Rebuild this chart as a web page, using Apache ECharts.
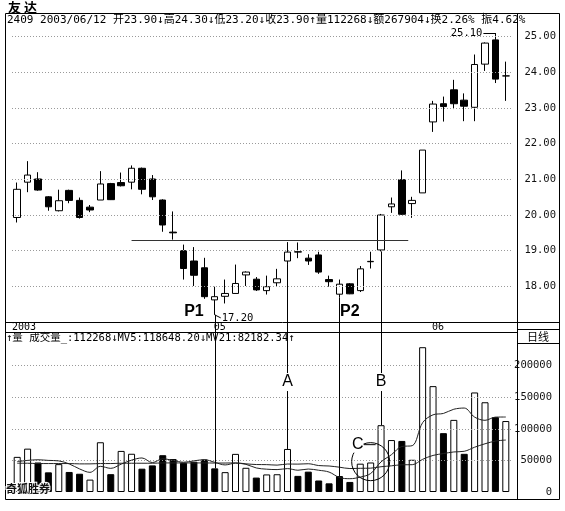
<!DOCTYPE html>
<html>
<head>
<meta charset="utf-8">
<script src="https://cdn.jsdelivr.net/npm/echarts@6.0.0/dist/echarts.min.js"></script>
<style>
html,body{margin:0;padding:0;background:#fff;}
#chart{width:565px;height:511px;}
</style>
</head>
<body>
<div id="chart"></div>
<script>
// ---------------- data ----------------
const dates = [
'2003/04/04','2003/04/07','2003/04/08','2003/04/09','2003/04/10','2003/04/11','2003/04/14','2003/04/15','2003/04/16','2003/04/17',
'2003/04/18','2003/04/21','2003/04/22','2003/04/23','2003/04/24','2003/04/25','2003/04/28','2003/04/29','2003/04/30',
'2003/05/02','2003/05/05','2003/05/06','2003/05/07','2003/05/08','2003/05/09','2003/05/12','2003/05/13','2003/05/14','2003/05/15','2003/05/16',
'2003/05/19','2003/05/20','2003/05/21','2003/05/22','2003/05/23','2003/05/26','2003/05/27','2003/05/28','2003/05/29','2003/05/30',
'2003/06/02','2003/06/03','2003/06/05','2003/06/06','2003/06/09','2003/06/10','2003/06/11','2003/06/12'];
const openP  = [19.93,20.92,21.01,20.51,20.12,20.69,20.41,20.22,20.42,20.88, 20.91,20.92,21.31,21.01,20.42,19.52,19.00,18.71,18.52,17.62, 17.72,17.80,18.32,18.20,17.88,18.10,18.71,18.97,18.79,18.88, 18.19,17.78,18.07,17.88,18.69,19.02,20.23,20.99,20.32,20.62, 22.61,23.12,23.51,23.22,23.02,24.23,24.91,23.90];
const closeP = [20.72,21.12,20.70,20.23,20.40,20.41,19.93,20.14,20.87,20.43, 20.82,21.31,20.72,20.51,19.72,19.50,18.50,18.31,17.71,17.71, 17.80,18.08,18.40,17.90,17.99,18.21,18.96,18.96,18.71,18.40, 18.13,18.06,17.79,18.49,18.70,20.00,20.31,20.02,20.41,21.82, 23.11,23.04,23.12,23.05,24.22,24.82,23.81,23.90];
const lowP   = [19.79,20.64,20.68,20.12,20.10,20.33,19.90,20.08,20.42,20.42, 20.80,20.72,20.58,20.42,19.53,19.31,18.19,18.01,17.65,17.20, 17.52,17.80,18.01,17.87,17.77,17.99,18.60,18.79,18.60,18.35, 17.99,17.69,17.78,17.84,18.50,18.98,20.06,20.00,19.92,20.62, 22.33,22.62,22.97,22.63,22.63,24.04,23.70,23.20];
const highP  = [20.91,21.51,21.20,20.53,20.71,20.71,20.49,20.28,21.23,20.90, 21.19,21.39,21.33,21.12,20.44,20.10,19.17,19.10,18.80,17.99, 18.19,18.61,18.42,18.26,18.30,18.49,19.24,19.23,18.90,18.97, 18.30,18.19,18.09,18.57,18.97,20.03,20.49,21.25,20.51,21.82, 23.20,23.32,23.79,23.41,24.50,24.84,25.10,24.30];
const volume = [55600,68600,46700,31100,44100,31700,28900,19600,78700,28200, 65000,60500,36900,42100,58200,52100,46100,47900,51400,37400, 31400,60300,38300,22800,27800,28100,68100,25500,32200,18200, 13700,25200,15900,44800,46700,105700,82200,80800,51000,229100, 167500,93100,114100,60400,157500,142000,118400,112268];
const volUp  = [1,1,0,0,1,0,0,1,1,0, 1,1,0,0,0,0,0,0,0,0, 1,1,1,0,1,1,1,0,0,0, 0,0,0,1,1,1,1,0,1,1, 1,0,1,0,1,1,0,1];
const mv5  = [48000,50000,51000,50000,49220,44440,36500,31080,40600,37420, 44080,50400,53860,46540,52540,49960,47080,49280,51140,46980, 42840,45680,43760,38040,36120,35460,37020,34460,36340,34420, 31540,22960,21040,23560,29260,47660,59060,72040,73280,109760, 122120,124300,130960,132840,118520,113420,118480,118648.20];
const mv21 = [45500,45500,45000,45000,45000,45000,44500,44500,45000,45000, 45500,45500,45500,45500,46000,46000,46000,46000,46000,45800, 45819,46043,44600,43462,43305,42543,44276,44114,44714,41833, 41143,39248,37124,37500,37719,39981,41414,43067,43214,51676, 57871,60810,63371,64424,70838,76276,80576,82182.34];
const priceTicks = [18,19,20,21,22,23,24,25];
const volTicks = [50000,100000,150000,200000];
const periodLabels = ['2003','05','06'];
const periodIdx = [0,19,40];
// annotation anchors (category index) and values
const markIdx = [19,26,31,35];          // P1 line, A, P2 line, B
const markLetters = ['','A','','B'];
const letterVol = 174000;
const peakNames = ['P1','P2'];
const peakIdx = [17,32];
const peakPrice = 17.30;
const necklinePrice = 19.30;
const necklineFrom = 11, necklineTo = 38;
const circleIdx = 34, circleVol = 48000, circleName = 'C';
const stockName = '友 达', stockCode = '2409';
const headerExtra = ['267904','2.26%','4.62%']; // 额, 换, 振

// ---------------- chart ----------------
const MONO = "'DejaVu Sans Mono', 'Noto Sans CJK SC', monospace";
const CJK = "'Noto Sans CJK SC', sans-serif";
const chart = echarts.init(document.getElementById('chart'), null, {renderer:'canvas'});
const catAxis = (gi) => ({type:'category', gridIndex:gi, data:dates, boundaryGap:true,
  axisLine:{show:false}, axisTick:{show:false}, axisLabel:{show:false}, splitLine:{show:false}});

chart.setOption({
  animation:false,
  backgroundColor:'#fff',
  tooltip:{show:false},
  grid:[
    {left:12, right:54, top:1, height:321, outerBoundsMode:'none', containLabel:false},
    {left:12, right:54, top:334, height:158, outerBoundsMode:'none', containLabel:false}
  ],
  xAxis:[catAxis(0), catAxis(1)],
  yAxis:[
    {type:'value', gridIndex:0, position:'right', min:17, max:26, interval:1, scale:true,
     axisLine:{show:false}, axisTick:{show:false}, splitLine:{show:false},
     axisLabel:{showMinLabel:false, showMaxLabel:false, align:'right', margin:45, fontSize:10.5,
       fontFamily:MONO, color:'#111', formatter:(v)=>v.toFixed(2)}},
    {type:'value', gridIndex:1, position:'right', min:0, max:250000, interval:50000,
     axisLine:{show:false}, axisTick:{show:false}, splitLine:{show:false},
     axisLabel:{showMaxLabel:false, align:'right', margin:41, fontSize:10.5,
       fontFamily:MONO, color:'#111', formatter:(v)=>String(v)}}
  ],
  series:[
    {type:'candlestick', xAxisIndex:0, yAxisIndex:0, barWidth:7,
     data:dates.map((d,i)=>[openP[i],closeP[i],lowP[i],highP[i]]),
     itemStyle:{color:'#fff', color0:'#000', borderColor:'#000', borderColor0:'#000', borderColorDoji:'#000', borderWidth:1},
     emphasis:{disabled:true},
     markLine:{silent:true, symbol:['none','none'], label:{show:false}, animation:false,
       lineStyle:{color:'#9a9a9a', type:[1,2], width:1},
       data:priceTicks.map(v=>({yAxis:v}))}
    },
    {type:'bar', xAxisIndex:1, yAxisIndex:1, barWidth:7,
     data:volume.map((v,i)=>({value:v, itemStyle:{color: volUp[i] ? '#fff' : '#000'}})),
     itemStyle:{borderColor:'#000', borderWidth:1},
     emphasis:{disabled:true},
     markLine:{silent:true, symbol:['none','none'], label:{show:false}, animation:false,
       lineStyle:{color:'#9a9a9a', type:[1,2], width:1},
       data:volTicks.map(v=>({yAxis:v}))}
    },
    {type:'line', xAxisIndex:1, yAxisIndex:1, data:mv5, symbol:'none', smooth:0.35,
     lineStyle:{color:'#222', width:1}, emphasis:{disabled:true}, z:5},
    {type:'line', xAxisIndex:1, yAxisIndex:1, data:mv21, symbol:'none', smooth:0.35,
     lineStyle:{color:'#222', width:1}, emphasis:{disabled:true}, z:5}
  ]
});

// ---------------- annotations & frame ----------------
const px = (i,p) => chart.convertToPixel({xAxisIndex:0, yAxisIndex:0}, [dates[i], p]);
const vx = (i,v) => chart.convertToPixel({xAxisIndex:1, yAxisIndex:1}, [dates[i], v]);
const g = [];
const L = (x1,y1,x2,y2,style) => g.push({type:'line', silent:true, z:60,
  shape:{x1,y1,x2,y2}, style:Object.assign({stroke:'#000', lineWidth:1}, style||{})});
const T = (x,y,text,style) => g.push({type:'text', silent:true, z:70, x, y,
  style:Object.assign({text, fill:'#000', fontSize:11, fontFamily:MONO,
    textAlign:'left', align:'left', textVerticalAlign:'middle', verticalAlign:'middle'}, style||{})});
const H = (v) => Math.round(v)+0.5;

// frame
L(5.5,13.5,559.5,13.5); L(5.5,13.5,5.5,499.5); L(559.5,13.5,559.5,499.5);
L(5.5,499.5,559.5,499.5); L(517.5,13.5,517.5,499.5);
L(5.5,322.5,559.5,322.5); L(5.5,332.5,517.5,332.5);
L(517.5,329.5,559.5,329.5); L(517.5,343.5,559.5,343.5);

// titles
T(8,7,stockName,{fontFamily:CJK, fontSize:13, fontWeight:'bold'});
const n = dates.length-1;
const header = stockCode+' '+dates[n]+' 开'+openP[n].toFixed(2)+'↓高'+highP[n].toFixed(2)+'↓低'+lowP[n].toFixed(2)+
  '↓收'+closeP[n].toFixed(2)+'↑量'+volume[n]+'↓额'+headerExtra[0]+'↓换'+headerExtra[1]+' 振'+headerExtra[2];
T(7,20,header,{fontSize:11});
T(6,338,'↑量 成交量_:'+volume[n]+'↓MV5:'+mv5[n].toFixed(2)+'↓MV21:'+mv21[n].toFixed(2)+'↑',{fontSize:10.5});
T(538,337,'日线',{fontFamily:CJK, fontSize:11, textAlign:'center', align:'center'});
T(6,489,'奇狐胜券',{fontFamily:CJK, fontSize:11, fontWeight:'bold', fill:'#111', stroke:'#fff', lineWidth:2});

// period labels
periodIdx.forEach((idx,k)=>{
  const p = px(idx, 17);
  T(k===0 ? 12 : p[0]-1, 327.5, periodLabels[k], {fontSize:10});
});

// neckline
const n1 = px(necklineFrom, necklinePrice), n2 = px(necklineTo, necklinePrice);
L(n1[0], H(n1[1]), n2[0]-4, H(n1[1]), {stroke:'#333'});

// vertical marker lines from candle low to volume bar top
markIdx.forEach((idx,k)=>{
  const top = px(idx, lowP[idx]);
  const bot = vx(idx, volume[idx]);
  const x = H(top[0]);
  L(x, top[1], x, bot[1]);
  if (markLetters[k]) {
    const ly = vx(idx, letterVol)[1];
    T(top[0], ly, markLetters[k], {fontFamily:"'Liberation Sans', Arial, sans-serif", fontSize:16,
      textAlign:'center', align:'center', backgroundColor:'#fff', padding:[1,1]});
  }
});

// P1 / P2
peakIdx.forEach((idx,k)=>{
  const p = px(idx, peakPrice);
  T(p[0], p[1], peakNames[k], {fontFamily:"'Liberation Sans', Arial, sans-serif", fontSize:16, fontWeight:'bold',
    textAlign:'center', align:'center'});
});

// low label 17.20 at P1
const iLow = lowP.indexOf(Math.min.apply(null, lowP));
const lp = px(iLow, lowP[iLow]);
L(lp[0], lp[1], lp[0]+6, lp[1]+3);
T(lp[0]+7, lp[1]+3.5, lowP[iLow].toFixed(2), {fontSize:10.5});

// high label 25.10
const iHigh = highP.indexOf(Math.max.apply(null, highP));
const hp = px(iHigh, highP[iHigh]);
L(hp[0]-12, H(hp[1]), hp[0], H(hp[1]));
L(H(hp[0]), hp[1], H(hp[0]), hp[1]+3);
T(hp[0]-13, hp[1], highP[iHigh].toFixed(2), {fontSize:10.5, textAlign:'right', align:'right'});

// circle C
const cc = vx(circleIdx, circleVol);
g.push({type:'circle', silent:true, z:60, shape:{cx:cc[0], cy:cc[1], r:19},
  style:{fill:'none', stroke:'#000', lineWidth:1}});
L(cc[0]-7, cc[1]-17, cc[0]+5, cc[1]-17);
T(cc[0]-13, cc[1]-17, circleName, {fontFamily:"'Liberation Sans', Arial, sans-serif", fontSize:16,
  textAlign:'center', align:'center', backgroundColor:'#fff'});

chart.setOption({graphic:{elements:g}});
</script>
</body>
</html>
